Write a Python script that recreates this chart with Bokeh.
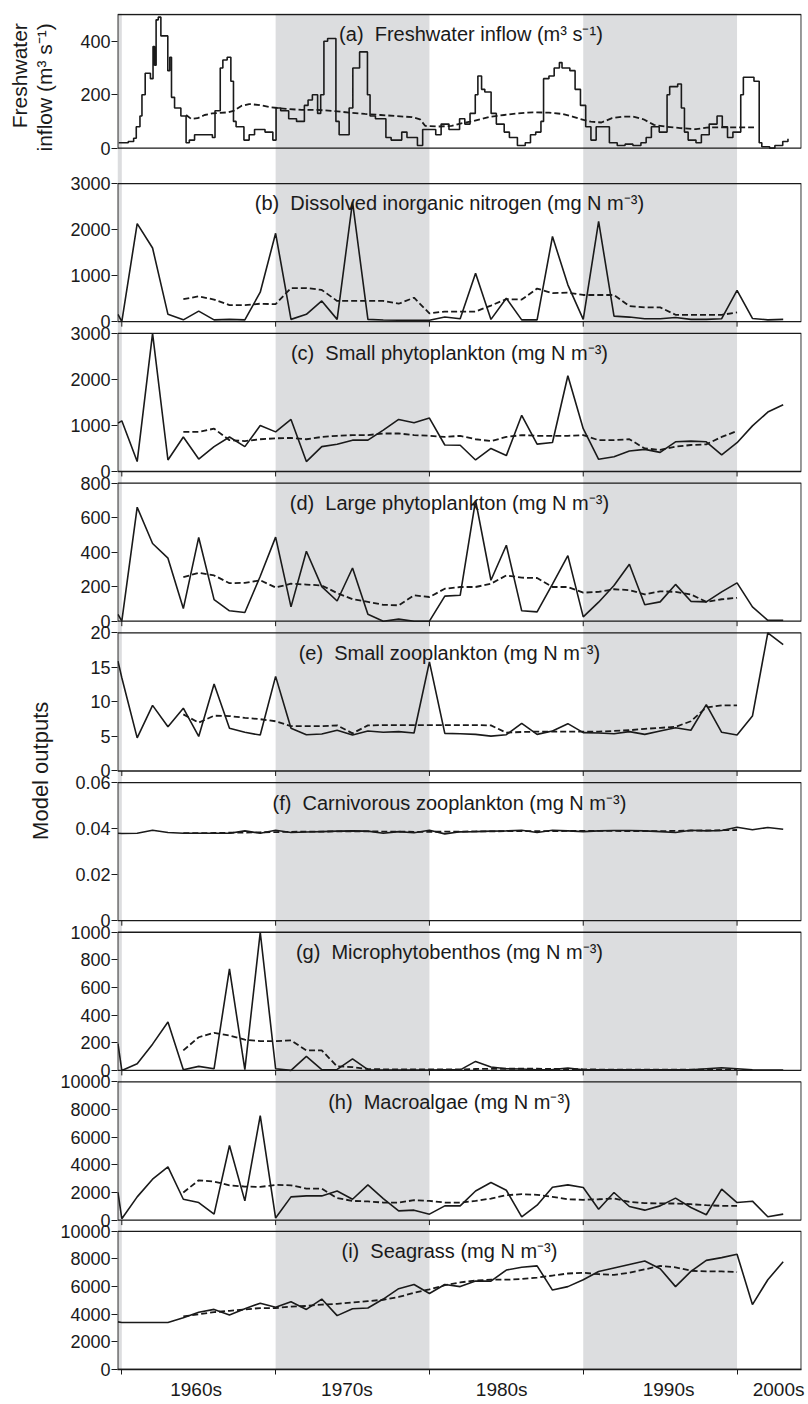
from math import pi
from bokeh.plotting import figure
from bokeh.layouts import row
from bokeh.models import Range1d, FixedTicker, Label
from bokeh.embed import file_html
from bokeh.resources import INLINE

# annual x positions: a part year at the start, then 1956-1999
years = [1955.75] + list(range(1956, 2000))
# years covered by the dashed running means
mean_years = list(range(1960, 1997))

# (a) freshwater inflow (m3 s-1), stepped series
flow_t = [1955.8, 1956.42, 1956.77, 1956.94, 1957.18, 1957.31, 1957.52, 1957.86, 1958.03, 1958.13,
          1958.23, 1958.37, 1958.54, 1958.99, 1959.12, 1959.23, 1959.43, 1959.84, 1960.18, 1960.39,
          1960.73, 1961.89, 1962.06, 1962.4, 1962.57, 1962.85, 1963.09, 1963.26, 1963.43, 1963.94,
          1964.28, 1964.63, 1965.31, 1965.82, 1966.03, 1966.33, 1966.85, 1967.36, 1967.87, 1968.11,
          1968.39, 1968.73, 1968.93, 1969.14, 1969.38, 1969.92, 1970.13, 1970.78, 1971.02, 1971.46,
          1971.97, 1972.14, 1972.49, 1973.17, 1973.51, 1974.2, 1974.54, 1975.22, 1975.56, 1976.41,
          1976.76, 1977.27, 1977.96, 1978.3, 1978.64, 1978.98, 1979.15, 1979.39, 1979.6, 1980.01,
          1980.35, 1980.86, 1981.2, 1981.72, 1982.23, 1982.57, 1982.91, 1983.25, 1983.42, 1983.77,
          1984.11, 1984.45, 1984.62, 1985.13, 1985.47, 1985.82, 1986.16, 1986.5, 1986.84, 1987.7,
          1988.21, 1988.72, 1989.23, 1989.75, 1990.09, 1990.43, 1990.94, 1991.45, 1991.62, 1992.14,
          1992.38, 1992.58, 1992.82, 1993.33, 1993.68, 1994.19, 1994.7, 1995.04, 1995.38, 1995.73,
          1996.24, 1996.41, 1997.1, 1997.44, 1997.61, 1998.12, 1998.46, 1998.97, 1999.31]
flow_v = [20, 25, 37, 80, 120, 200, 280, 260, 380, 310,
          480, 490, 420, 290, 340, 190, 150, 120, 20, 30,
          50, 40, 140, 300, 330, 340, 250, 100, 80, 30,
          50, 70, 60, 30, 150, 140, 110, 100, 160, 180,
          200, 130, 200, 400, 410, 100, 50, 150, 300, 360,
          200, 120, 110, 40, 30, 60, 40, 10, 70, 50,
          90, 70, 110, 90, 130, 200, 270, 220, 210, 130,
          90, 60, 40, 10, 20, 50, 60, 100, 260, 270,
          300, 320, 300, 290, 220, 160, 80, 30, 80, 20,
          10, 15, 10, 20, 40, 80, 60, 200, 230, 240,
          150, 60, 30, 20, 50, 90, 120, 80, 40, 60,
          200, 265, 250, 20, 5, 0, 10, 25, 35]
flow_mean_t = [1960.18, 1960.52, 1960.93, 1961.38, 1961.89, 1962.92, 1963.26, 1963.77, 1964.28, 1964.97,
               1965.65, 1966.68, 1967.7, 1968.73, 1969.75, 1970.78, 1971.8, 1972.83, 1973.85, 1974.88,
               1975.39, 1975.73, 1976.59, 1977.44, 1977.95, 1978.64, 1979.32, 1980.01, 1980.86, 1981.72,
               1982.74, 1983.77, 1984.62, 1985.3, 1985.82, 1986.5, 1987.18, 1987.87, 1988.55, 1989.23,
               1989.92, 1990.6, 1991.28, 1992.31, 1993.33, 1994.02, 1995.04, 1996.07, 1997.1]
flow_mean_v = [124, 109, 112, 124, 130, 134, 139, 158, 165, 161,
               153, 147, 143, 143, 139, 133, 128, 124, 120, 116,
               108, 83, 81, 83, 91, 99, 108, 118, 124, 130,
               134, 133, 128, 118, 109, 99, 96, 112, 118, 118,
               108, 87, 81, 75, 71, 77, 78, 78, 78]

# (b) dissolved inorganic nitrogen
din = [160, 0, 2130, 1600, 160, 40, 230, 40, 50, 40, 640,
       1920, 50, 160, 450, 50, 2600, 50, 35, 30, 30,
       30, 100, 65, 1050, 50, 510, 40, 40, 1850, 800,
       50, 2180, 120, 100, 65, 65, 90, 50, 50, 65,
       680, 70, 40, 50]
din_mean = [490, 550, 480, 360, 360, 390, 380, 730, 730, 690,
            450, 450, 450, 450, 390, 520, 180, 220, 220, 220,
            350, 490, 480, 720, 620, 630, 580, 580, 580, 340,
            310, 310, 150, 150, 150, 150, 200]

# (c) small phytoplankton
sphy = [1050, 1100, 215, 3000, 250, 750, 270, 540, 750, 540, 1000,
        860, 1130, 215, 540, 590, 680, 680, 900, 1130, 1060,
        1160, 575, 570, 250, 500, 345, 1220, 595, 630, 2080,
        930, 265, 320, 445, 480, 415, 645, 660, 645, 360,
        625, 990, 1290, 1450]
sphy_mean = [860, 860, 930, 680, 660, 700, 720, 730, 700, 750,
             775, 790, 790, 825, 825, 790, 775, 750, 775, 700,
             660, 750, 790, 775, 775, 775, 790, 680, 680, 700,
             500, 470, 540, 575, 590, 750, 880]

# (d) large phytoplankton
lphy = [40, 0, 660, 450, 365, 73, 485, 125, 60, 50, 260,
        487, 83, 405, 200, 117, 308, 40, 0, 12, 0,
        0, 145, 150, 700, 237, 440, 60, 54, 215, 380,
        25, 110, 207, 330, 95, 112, 213, 115, 112, 170,
        222, 83, 5, 5]
lphy_mean = [255, 280, 265, 220, 222, 237, 195, 217, 212, 207,
             163, 127, 112, 95, 92, 150, 140, 188, 198, 198,
             217, 265, 252, 250, 198, 198, 165, 170, 185, 180,
             155, 173, 170, 155, 112, 127, 135]

# (e) small zooplankton
szoo = [15.9, 13.5, 4.8, 9.5, 6.4, 9.1, 5.0, 12.6, 6.2, 5.6, 5.2,
        13.7, 6.2, 5.25, 5.35, 5.9, 5.2, 5.8, 5.6, 5.7, 5.5,
        15.8, 5.45, 5.4, 5.3, 5.05, 5.25, 6.9, 5.3, 5.8, 6.85,
        5.55, 5.5, 5.4, 5.7, 5.3, 5.8, 6.25, 5.9, 9.6, 5.6,
        5.2, 7.95, 20.0, 18.3]
szoo_mean = [8.2, 7.0, 8.0, 7.95, 7.7, 7.5, 7.2, 6.5, 6.5, 6.5,
             6.6, 5.45, 6.6, 6.65, 6.65, 6.65, 6.65, 6.65, 6.65, 6.65,
             6.6, 5.55, 5.65, 5.7, 5.7, 5.7, 5.7, 5.7, 5.8, 5.9,
             6.1, 6.25, 6.4, 7.2, 9.2, 9.5, 9.5]

# (f) carnivorous zooplankton
czoo = [0.0380, 0.0379, 0.0380, 0.0393, 0.0383, 0.0380, 0.0380, 0.0380, 0.0380, 0.0390, 0.0380,
        0.0393, 0.0383, 0.0385, 0.0387, 0.0389, 0.0390, 0.0389, 0.0380, 0.0387, 0.0382,
        0.0393, 0.0377, 0.0386, 0.0387, 0.0389, 0.0390, 0.0393, 0.0383, 0.0393, 0.0390,
        0.0387, 0.0390, 0.0392, 0.0392, 0.0390, 0.0387, 0.0383, 0.0393, 0.0390, 0.0392,
        0.0406, 0.0395, 0.0405, 0.0397]
czoo_mean = [0.0380, 0.0380, 0.0381, 0.0382, 0.0383, 0.0384, 0.0385, 0.0386, 0.0387, 0.0387,
             0.0388, 0.0388, 0.0388, 0.0387, 0.0387, 0.0386, 0.0386, 0.0387, 0.0387, 0.0388,
             0.0388, 0.0389, 0.0389, 0.0389, 0.0389, 0.0390, 0.0390, 0.0390, 0.0390, 0.0389,
             0.0389, 0.0389, 0.0390, 0.0391, 0.0392, 0.0393, 0.0394]

# (g) microphytobenthos
mpb = [193, 0, 48, 190, 350, 5, 29, 12, 735, 5, 1000,
       12, 0, 101, 5, 7, 84, 5, 3, 3, 3,
       3, 4, 4, 65, 24, 12, 10, 5, 6, 17,
       4, 4, 4, 4, 4, 4, 4, 5, 12, 19,
       12, 4, 3, 3]
mpb_mean = [145, 240, 272, 253, 222, 212, 212, 217, 145, 145,
            29, 24, 10, 8, 8, 8, 8, 8, 7, 10,
            12, 12, 12, 12, 10, 10, 8, 6, 6, 6,
            6, 6, 6, 6, 6, 6, 6]

# (h) macroalgae
malg = [2000, 100, 1680, 2960, 3850, 1510, 1270, 430, 5400, 1390, 7570,
        145, 1680, 1750, 1750, 2110, 1510, 2550, 1560, 670, 720,
        430, 1030, 1030, 2110, 2720, 2160, 240, 1080, 2380, 2550,
        2360, 790, 2000, 985, 720, 1030, 1590, 910, 385, 2240,
        1270, 1370, 240, 430]
malg_mean = [2000, 2880, 2790, 2520, 2430, 2400, 2550, 2520, 2280, 2280,
             1590, 1390, 1350, 1270, 1270, 1440, 1390, 1270, 1270, 1390,
             1560, 1800, 1880, 1830, 1680, 1510, 1470, 1510, 1560, 1320,
             1230, 1200, 1200, 1150, 1080, 1030, 1030]

# (i) seagrass
sgr = [3450, 3400, 3400, 3400, 3400, 3750, 4150, 4350, 3950, 4400, 4800,
       4500, 4900, 4350, 5100, 3900, 4400, 4450, 5100, 5850, 6150,
       5500, 6150, 6000, 6400, 6400, 7200, 7400, 7500, 5750, 6000,
       6500, 7100, 7350, 7600, 7850, 7300, 6000, 7100, 7900, 8100,
       8350, 4700, 6500, 7800]
sgr_mean = [3850, 4000, 4150, 4250, 4350, 4450, 4450, 4550, 4600, 4700,
            4750, 4850, 4950, 5050, 5250, 5550, 5800, 6100, 6300, 6450,
            6500, 6500, 6550, 6650, 6800, 6950, 7000, 6900, 6850, 7000,
            7250, 7500, 7400, 7150, 7100, 7100, 7050]

decade_ticks = [1956, 1966, 1976, 1986, 1996]
decade_labels = ["1960s", "1970s", "1980s", "1990s", "2000s"]
decade_label_pos = [1960.83, 1970.64, 1980.7, 1991.55, 1998.7]

FONT = "Liberation Sans"
INK = "#1a1a1a"
SHADE = "#dcdddf"

W, H = 808, 1402
SIDE_W = 57                    # strip holding the rotated side titles
TOP_B, BOT_B = 13, 30
X0, X1 = 1955.72, 2000.19      # frame
BX0, BX1 = 1955.74, 2000.17    # panel boxes
Y_TOP = 1359.6                 # frame height in layout units (about 1 px)

unit = " (mg N m\u207b\u00b3)"
# key, title, bottom, height, top value, tick values, title x
panels = [
    ("a", "(a)\u00a0 Freshwater inflow (m\u00b3 s\u207b\u00b9)", 1224.6, 134.0, 500, [0, 200, 400], 1978.7),
    ("b", "(b)\u00a0 Dissolved inorganic nitrogen" + unit, 1050.6, 138.5, 3000, [0, 1000, 2000, 3000], 1977.3),
    ("c", "(c)\u00a0 Small phytoplankton" + unit, 900.4, 138.5, 3000, [0, 1000, 2000, 3000], 1977.3),
    ("d", "(d)\u00a0 Large phytoplankton" + unit, 750.3, 138.5, 800, [0, 200, 400, 600, 800], 1977.3),
    ("e", "(e)\u00a0 Small zooplankton" + unit, 600.1, 138.5, 20, [0, 5, 10, 15, 20], 1977.3),
    ("f", "(f)\u00a0 Carnivorous zooplankton" + unit, 450.0, 138.5, 0.06, [0, 0.02, 0.04, 0.06], 1977.3),
    ("g", "(g)\u00a0 Microphytobenthos" + unit, 299.9, 138.5, 1000, [0, 200, 400, 600, 800, 1000], 1977.3),
    ("h", "(h)\u00a0 Macroalgae" + unit, 149.8, 138.5, 10000, [0, 2000, 4000, 6000, 8000, 10000], 1977.3),
    ("i", "(i)\u00a0 Seagrass" + unit, 0.0, 138.5, 10000, [0, 2000, 4000, 6000, 8000, 10000], 1977.3),
]
series = {
    "b": (din, din_mean), "c": (sphy, sphy_mean), "d": (lphy, lphy_mean),
    "e": (szoo, szoo_mean), "f": (czoo, czoo_mean), "g": (mpb, mpb_mean),
    "h": (malg, malg_mean), "i": (sgr, sgr_mean),
}

p = figure(width=W - SIDE_W, height=H, output_backend="svg", toolbar_location=None,
           x_range=Range1d(X0, X1), y_range=Range1d(0, Y_TOP),
           min_border_left=114 - SIDE_W, min_border_right=7,
           min_border_top=TOP_B, min_border_bottom=BOT_B)
p.grid.visible = False
p.outline_line_color = None
p.background_fill_color = "white"
p.border_fill_color = "white"

# each panel gets its own value range mapped onto its strip of the frame
for key, title, bottom, height, top, ticks, tx in panels:
    k = top / height
    p.extra_y_ranges[key] = Range1d(-bottom * k, top + (Y_TOP - bottom - height) * k)

# decade shading through the whole stack
p.quad(left=[X0] + decade_ticks[1::2], right=decade_ticks[0::2],
       bottom=0, top=Y_TOP, fill_color=SHADE, line_color=None)

# panel boxes
p.quad(left=BX0, right=BX1, bottom=[pn[2] for pn in panels],
       top=[pn[2] + pn[3] for pn in panels],
       fill_color=None, line_color=INK, line_width=1.3)

# small decade ticks under the inner panels
sx, sy0, sy1 = [], [], []
for key, title, bottom, height, top, ticks, tx in panels[1:-1]:
    for t in decade_ticks:
        sx.append(t)
        sy0.append(bottom)
        sy1.append(bottom - 5)
p.segment(x0=sx, y0=sy0, x1=sx, y1=sy1, line_color=INK, line_width=1)

# data
p.step(flow_t, flow_v, mode="after", y_range_name="a", line_color=INK, line_width=1.6)
p.line(flow_mean_t, flow_mean_v, y_range_name="a", line_color=INK, line_width=1.8, line_dash="6 3")
for key, (vals, means) in series.items():
    p.line(years, vals, y_range_name=key, line_color=INK, line_width=1.6)
    p.line(mean_years, means, y_range_name=key, line_color=INK, line_width=1.8, line_dash="6 3")

# panel titles
for key, title, bottom, height, top, ticks, tx in panels:
    p.add_layout(Label(x=tx, y=bottom + height - 20, text=title, text_align="center",
                       text_baseline="middle", text_font=FONT, text_font_size="20px",
                       text_color=INK))

# left axis: one axis carrying every panel's ticks
ypos, ylab = [], {}
for key, title, bottom, height, top, ticks, tx in panels:
    for t in ticks:
        pos = round(bottom + t / top * height, 3)
        ypos.append(pos)
        ylab[pos] = ("%g" % t)
p.yaxis.ticker = FixedTicker(ticks=ypos, minor_ticks=[])
p.yaxis.major_label_overrides = ylab
p.yaxis.axis_line_color = None
p.yaxis.major_tick_out = 6
p.yaxis.major_tick_in = 0
p.yaxis.major_tick_line_color = INK
p.yaxis.major_label_standoff = 1
p.yaxis.major_label_text_font = FONT
p.yaxis.major_label_text_font_size = "18px"
p.yaxis.major_label_text_color = INK

# bottom axis: decade labels between the boundary ticks
p.xaxis.ticker = FixedTicker(ticks=decade_label_pos, minor_ticks=decade_ticks)
p.xaxis.major_label_overrides = dict(zip(decade_label_pos, decade_labels))
p.xaxis.major_tick_line_color = None
p.xaxis.major_tick_out = 0
p.xaxis.major_tick_in = 0
p.xaxis.minor_tick_out = 5
p.xaxis.minor_tick_in = 0
p.xaxis.minor_tick_line_color = INK
p.xaxis.axis_line_color = INK
p.xaxis.axis_line_width = 1.3
p.xaxis.major_label_standoff = 4
p.xaxis.major_label_text_font = FONT
p.xaxis.major_label_text_font_size = "19px"
p.xaxis.major_label_text_color = INK

# side strip with the rotated axis titles, in page pixels
side = figure(width=SIDE_W, height=H, output_backend="svg", toolbar_location=None,
              x_range=Range1d(0, SIDE_W), y_range=Range1d(H, 0),
              x_axis_type=None, y_axis_type=None,
              min_border_left=0, min_border_right=0, min_border_top=0, min_border_bottom=0)
side.grid.visible = False
side.outline_line_color = None
side.border_fill_color = "white"
txt = dict(angle=pi / 2, text_font=FONT, text_font_size="21px", text_color=INK,
           text_baseline="middle")
side.add_layout(Label(x=19, y=10, text="Freshwater", text_align="right", **txt))
side.add_layout(Label(x=44, y=10, text="inflow (m\u00b3 s\u207b\u00b9)", text_align="right", **txt))
side.add_layout(Label(x=40, y=783, text="Model outputs", text_align="center",
                      **dict(txt, text_font_size="22px")))

layout = row(side, p)
open("out.html", "w").write(file_html(layout, INLINE))
